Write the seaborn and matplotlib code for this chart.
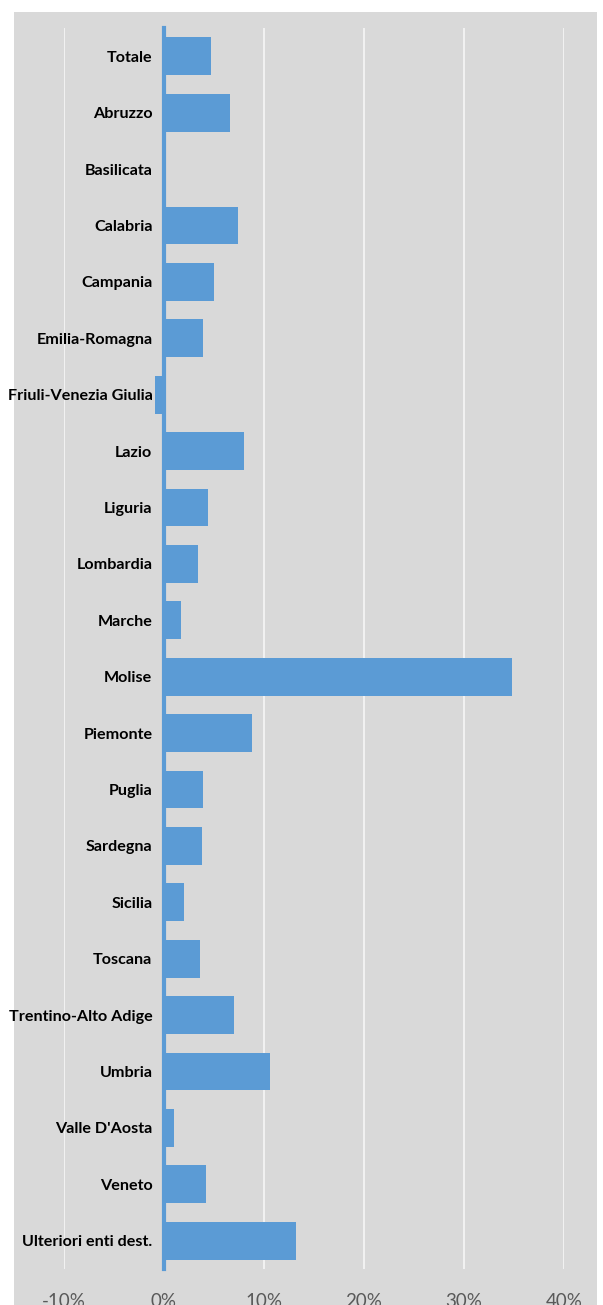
import matplotlib
matplotlib.use("Agg")
import matplotlib.pyplot as plt
import matplotlib.ticker as mticker
from matplotlib.patches import Rectangle
import pandas as pd
import seaborn as sns

# Data (percent change by region)
regions = [
    "Totale", "Abruzzo", "Basilicata", "Calabria", "Campania", "Emilia-Romagna",
    "Friuli-Venezia Giulia", "Lazio", "Liguria", "Lombardia", "Marche", "Molise",
    "Piemonte", "Puglia", "Sardegna", "Sicilia", "Toscana", "Trentino-Alto Adige",
    "Umbria", "Valle D'Aosta", "Veneto", "Ulteriori enti dest.",
]
values = [
    4.75, 6.65, 0.0, 7.45, 5.0, 3.95,
    -0.9, 8.05, 4.45, 3.4, 1.75, 34.8,
    8.85, 3.95, 3.85, 2.0, 3.65, 7.0,
    10.6, 1.05, 4.2, 13.25,
]
x_ticks = [-10, 0, 10, 20, 30, 40]

BLUE = "#5b9bd5"
GREY = "#d9d9d9"

df = pd.DataFrame({"region": regions, "value": values})

sns.set_theme(style="white")
plt.rcParams["font.family"] = ["Lato", "DejaVu Sans"]

W, H = 603, 1305
fig = plt.figure(figsize=(W / 100, H / 100), dpi=100)
fig.patch.set_facecolor("white")
bg = Rectangle((14 / W, 0), (597 - 14) / W, (H - 12) / H,
               transform=fig.transFigure, facecolor=GREY,
               edgecolor="none", zorder=-10)
fig.patches.append(bg)

ax = fig.add_axes([63.5 / W, (H - 1269) / H, (564 - 63.5) / W, (1269 - 28) / H])
ax.set_facecolor(GREY)

sns.barplot(data=df, x="value", y="region", orient="h", color=BLUE,
            saturation=1, width=0.67, linewidth=0, ax=ax, zorder=3)

ax.set_xlim(-10, 40)
ax.set_ylim(len(regions) - 0.5, -0.5)
ax.set_xticks(x_ticks)
ax.xaxis.set_major_formatter(mticker.FuncFormatter(lambda v, p: f"{v:.0f}%"))
ax.grid(axis="x", color="#f4f4f4", linewidth=1.3, zorder=1)
ax.set_axisbelow(True)

for s in ["top", "right", "bottom"]:
    ax.spines[s].set_visible(False)
ax.spines["left"].set_position(("data", 0))
ax.spines["left"].set_color(BLUE)
ax.spines["left"].set_linewidth(3)
ax.spines["left"].set_zorder(4)

ax.tick_params(axis="y", length=0, pad=8, labelsize=11.6, labelcolor="black")
ax.tick_params(axis="x", length=0, pad=17, labelsize=13.5, labelcolor="#595959")
for lab in ax.get_yticklabels():
    lab.set_fontweight("bold")

ax.set_xlabel("")
ax.set_ylabel("")

fig.savefig("out.png", dpi=100, facecolor=fig.get_facecolor())
